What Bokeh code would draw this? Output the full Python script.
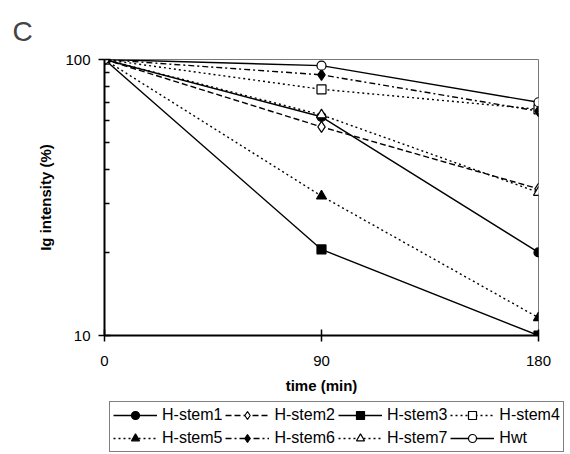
from bokeh.plotting import figure
from bokeh.layouts import column
from bokeh.models import FixedTicker, Legend, LegendItem, CustomJSTickFormatter
from bokeh.embed import file_html
from bokeh.resources import INLINE

time = [0, 90, 180]
names = ["H-stem1", "H-stem2", "H-stem3", "H-stem4", "H-stem5", "H-stem6", "H-stem7", "Hwt"]
h_stem1 = [100, 62, 20]
h_stem2 = [100, 57, 34]
h_stem3 = [100, 20.5, 10]
h_stem4 = [100, 78, 66]
h_stem5 = [100, 32, 11.6]
h_stem6 = [100, 88, 65]
h_stem7 = [100, 63, 33]
hwt = [100, 95, 70]
series = [h_stem1, h_stem2, h_stem3, h_stem4, h_stem5, h_stem6, h_stem7, hwt]
x_ticks = [0, 90, 180]
y_ticks = [10, 100]
y_minor = [20, 30, 40, 50, 60, 70, 80, 90]

styles = [
    ("solid", "circle", "black", 9),
    ("6 3", "diamond", "white", 11),
    ("solid", "square", "black", 9),
    ("2 3", "square", "white", 9),
    ("2 3", "triangle", "black", 10),
    ("6 3 2 3", "diamond", "black", 11),
    ("2 3", "triangle", "white", 10),
    ("solid", "circle", "white", 9),
]

FONT = "Liberation Sans"

p = figure(y_axis_type="log", x_range=(0, 180), y_range=(10, 100),
           output_backend="svg", toolbar_location=None,
           frame_width=434, frame_height=276,
           min_border_left=104, min_border_top=58, min_border_bottom=66, min_border_right=28)
p.frame_align = False
p.background_fill_color = "white"
p.border_fill_color = "white"
p.outline_line_color = "#777777"
p.outline_line_width = 1
p.xgrid.visible = False
p.ygrid.visible = False

p.title.text = "C"
p.title.text_font = FONT
p.title.text_font_size = "28px"
p.title.text_font_style = "normal"
p.title.align = "left"
p.title.offset = -92
p.title.standoff = 26

p.xaxis.ticker = FixedTicker(ticks=x_ticks)
p.yaxis.ticker = FixedTicker(ticks=y_ticks, minor_ticks=y_minor)
p.xaxis.minor_tick_line_color = None
for ax in (p.xaxis, p.yaxis):
    ax.axis_line_width = 2
    ax.axis_line_color = "black"
    ax.major_tick_in = 6
    ax.major_tick_out = 6
    ax.major_tick_line_width = 1.5
    ax.major_label_text_font = FONT
    ax.major_label_text_font_size = "15px"
    ax.major_label_text_color = "black"
    ax.axis_label_text_font = FONT
    ax.axis_label_text_font_size = "15px"
    ax.axis_label_text_font_style = "bold"
    ax.axis_label_text_color = "black"
p.yaxis.minor_tick_in = 5
p.yaxis.minor_tick_out = 0
p.yaxis.minor_tick_line_width = 1.5
p.yaxis.minor_tick_line_color = "black"
p.xaxis.major_label_standoff = 14
p.yaxis.major_label_standoff = 8
p.xaxis.axis_label = "time (min)"
p.yaxis.axis_label = "Ig intensity (%)"
p.xaxis.axis_label_standoff = 8
p.yaxis.axis_label_standoff = 8
p.yaxis.formatter = CustomJSTickFormatter(code="return tick.toFixed(0);")

# legend panel (separate figure placed under the chart)
lf = figure(width=566, height=52, x_range=(0, 180), y_range=(10, 100),
            output_backend="svg", toolbar_location=None,
            min_border_left=0, min_border_right=0, min_border_top=0, min_border_bottom=0)
lf.frame_align = False
lf.axis.visible = False
lf.grid.visible = False
lf.outline_line_color = None
lf.background_fill_color = "white"
lf.border_fill_color = "white"

items = []
for name, ys, (dash, marker, fill, size) in zip(names, series, styles):
    p.line(time, ys, line_color="black", line_width=1.4, line_dash=dash)
    p.scatter(time, ys, marker=marker, size=size, line_color="black", line_width=1.2,
              fill_color=fill)
    l1 = lf.line(time, ys, line_color="black", line_width=1.4, line_dash=dash, visible=False)
    l2 = lf.scatter(time, ys, marker=marker, size=size, line_color="black", line_width=1.2,
                    fill_color=fill, visible=False)
    items.append(LegendItem(label=name, renderers=[l1, l2]))

legend = Legend(items=items, ncols=4, location=(109, 1), orientation="horizontal")
legend.label_text_font = FONT
legend.label_text_font_size = "16px"
legend.label_text_color = "black"
legend.glyph_width = 44
legend.glyph_height = 20
legend.label_height = 20
legend.label_standoff = 5
legend.spacing = 3
legend.padding = 3
legend.margin = 0
legend.inactive_fill_alpha = 0
legend.border_line_color = "black"
legend.border_line_width = 1.2
legend.background_fill_alpha = 1
lf.add_layout(legend, "center")

layout = column(p, lf, spacing=0)
open("out.html", "w").write(file_html(layout, INLINE))
